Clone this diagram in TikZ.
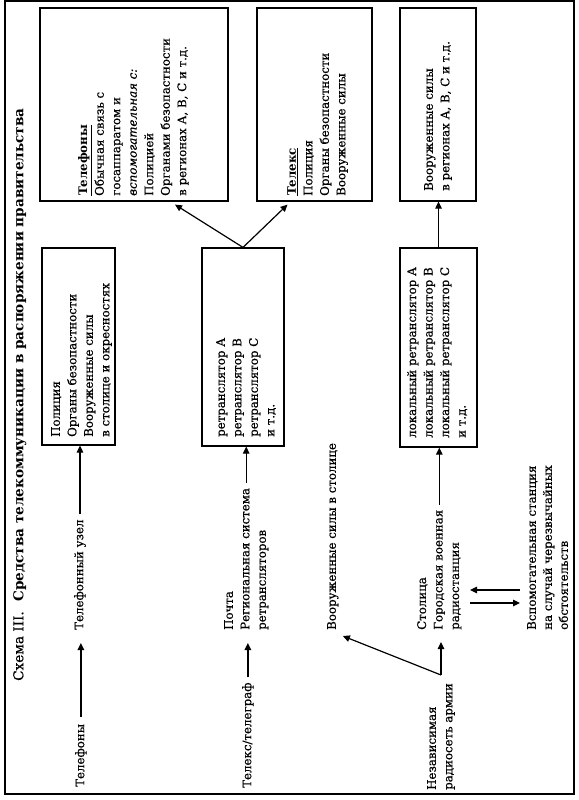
\documentclass[tikz,border=0pt]{standalone}
\usepackage{fontspec}
\setmainfont{DejaVu Serif}[UprightFeatures={FakeBold=0.6},ItalicFeatures={FakeBold=0.6}]
\usetikzlibrary{arrows.meta,calc}
\begin{document}
\begin{tikzpicture}[x=1pt,y=-1pt,
  lbl/.style={rotate=90, anchor=north west, inner sep=0pt, align=left,
    font=\fontsize{11.8}{16.5}\selectfont},
  boxnode/.style={draw, line width=1.2pt, inner sep=0pt},
  arr/.style={-{Triangle[length=7pt,width=6.5pt]}, line width=1.2pt},
  frame/.style={line width=1.4pt}]
\useasboundingbox (0,0) rectangle (578,800);
\draw[frame] (5,1) rectangle (574,794);

% title
\node[lbl, font=\fontsize{13.6}{16}\selectfont] (title) at (13,681)
  {Схема III.\hspace{0.7em}\textbf{Средства телекоммуникации в распоряжении правительства}};

% boxes
\node[boxnode, minimum width=73pt, minimum height=197pt] (b1) at (78.5,346.5) {};
\node[boxnode, minimum width=188pt, minimum height=193pt] (b2) at (134,104.5) {};
\node[boxnode, minimum width=115pt, minimum height=193pt] (b3) at (314.5,104.5) {};
\node[boxnode, minimum width=82pt, minimum height=198pt] (b4) at (243,347) {};
\node[boxnode, minimum width=77pt, minimum height=199pt] (b5) at (438.5,347.5) {};
\node[boxnode, minimum width=76pt, minimum height=193pt] (b6) at (438,104.5) {};

% box texts
\node[lbl] (t1) at (51,437) {Полиция\\Органы безопастности\\Вооруженные силы\\в столице и окресностях};
\node[lbl] (t2) at (78,196) {\textbf{\underline{Телефоны}}\\Обычная связь с\\госаппаратом и\\\textit{вспомогательная с:}\\Полицией\\Органами безопастности\\в регионах А, В, С и т.д.};
\node[lbl] (t3) at (287,196) {\textbf{\underline{Телекс}}\\Полиция\\Органы безопастности\\Вооруженные силы};
\node[lbl] (t4) at (216,437) {ретранслятор А\\ретранслятор В\\ретранслятор С\\и т.д.};
\node[lbl] (t5) at (407,438) {локальный ретранслятор А\\локальный ретранслятор В\\локальный ретранслятор С\\и т.д.};
\node[lbl] (t6) at (424,191) {Вооруженные силы\\в регионах А, В, С и т.д.};

% free texts
\node[lbl] (tel) at (75,787) {Телефоны};
\node[lbl] (tuzel) at (74,630) {Телефонный узел};
\node[lbl] (telex) at (242,788) {Телекс/телеграф};
\node[lbl] (pochta) at (224,630) {Почта\\Региональная система\\ретрансляторов};
\node[lbl] (vs) at (327,630) {Вооруженные силы в столице};
\node[lbl] (nez) at (427,790) {Независимая\\радиосеть армии};
\node[lbl] (stol) at (417,630) {Столица\\Городская военная\\радиостанция};
\node[lbl, font=\fontsize{11.8}{16}\selectfont] (vsp) at (527,630) {Вспомогательная станция\\на случай черезвычайных\\обстоятельств};

% connectors
\draw[arr, shorten <=7pt, shorten >=13pt] (tel.east) -- (tel.east |- tuzel.west);
\draw[arr, shorten <=5pt] (tuzel.east) -- (tuzel.east |- b1.south);
\draw[arr, shorten <=5pt, shorten >=13pt] (telex.east) -- (telex.east |- pochta.west);
\draw[arr, shorten <=5pt] (pochta.east) -- (pochta.east |- b4.south);
\draw[arr] (b4.north) -- ([xshift=41pt,yshift=-3pt]b2.south);
\draw[arr] (b4.north) -- ([xshift=-27pt,yshift=-3pt]b3.south);
\draw[arr, shorten <=5pt] (stol.east) -- (stol.east |- b5.south);
\draw[arr] (b5.north) -- (b5.north |- b6.south);
\coordinate (fork) at ([yshift=8pt]nez.east);
\draw[arr, shorten >=12pt] (fork) -- (fork |- stol.west);
\draw[arr] (fork) -- ([xshift=10pt,yshift=-6pt]vs.west);
\coordinate (da) at (520,590);
\coordinate (db) at (470,590);
\coordinate (dc) at (470,603);
\coordinate (dd) at (520,603);
\draw[arr] (da) -- (db);
\draw[arr] (dc) -- (dd);
\end{tikzpicture}
\end{document}
